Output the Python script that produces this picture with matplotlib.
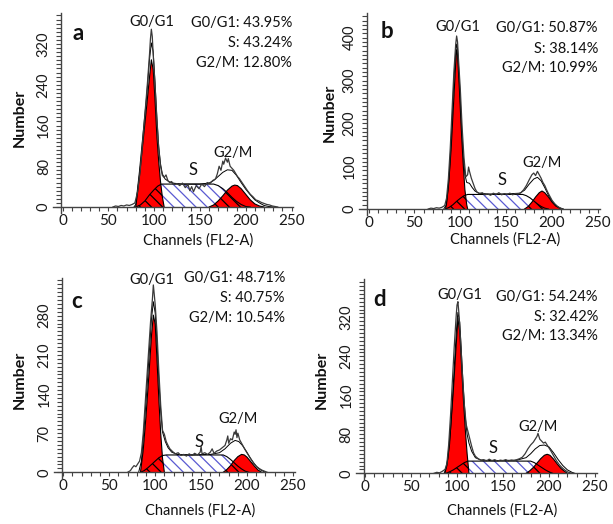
import numpy as np
import matplotlib
matplotlib.use("Agg")
import matplotlib.pyplot as plt
from matplotlib.patches import Polygon

plt.rcParams["font.family"] = ["Lato", "DejaVu Sans"]
plt.rcParams["hatch.linewidth"] = 0.9

# ---- panel a ----
a_raw_ch = [55, 58, 61, 64, 67, 70, 73, 76, 79, 82, 85, 88, 91, 93, 95, 96, 97, 98, 99, 101, 103, 105,
            107, 109, 111, 113, 115, 117, 119, 122, 125, 128, 131, 134, 137, 139, 141, 143, 146, 149,
            152, 155, 158, 161, 164, 167, 169, 171, 173, 175, 176, 178, 180, 181, 183, 185, 187, 189,
            191, 193, 196, 199, 202, 205, 208, 211, 214, 217, 220, 223, 226, 229, 232, 235]
a_raw_n = [0, 2, 1, 3, 2, 4, 3, 5, 8, 30, 75, 140, 205, 250, 300, 330, 349, 335, 300, 240, 175, 115,
           80, 62, 58, 63, 52, 48, 50, 44, 46, 42, 47, 38, 44, 32, 40, 30, 42, 36,
           45, 40, 48, 46, 52, 55, 65, 80, 72, 90, 84, 96, 88, 95, 80, 76, 72, 66,
           60, 56, 48, 40, 32, 25, 20, 14, 12, 9, 7, 5, 4, 2, 1, 0]
a_fit_ch = [78, 80, 84, 88, 92, 95, 97, 99, 101, 103, 105, 107, 109, 112, 116, 120, 130, 150, 160,
            165, 170, 175, 180, 185, 190, 195, 200, 205, 210, 215, 220, 225, 230]
a_fit_n = [0, 5, 70, 145, 220, 290, 322, 305, 245, 175, 120, 85, 65, 55, 50, 47, 45, 45, 47,
           52, 60, 68, 73, 72, 62, 48, 35, 24, 14, 8, 3, 1, 0]
a_g1_ch = [80, 84, 88, 92, 95, 97, 99, 101, 103, 105, 107, 109, 111]
a_g1_n = [0, 60, 130, 200, 255, 289, 270, 210, 140, 90, 50, 20, 0]
a_s_ch = [80, 85, 90, 95, 100, 104, 108, 165, 170, 175, 180, 185, 190, 195, 200, 205]
a_s_n = [0, 4, 12, 24, 34, 41, 45, 45, 42, 36, 28, 19, 11, 5, 1, 0]
a_g2_ch = [160, 165, 170, 175, 180, 185, 188, 191, 195, 200, 205, 210, 215, 220]
a_g2_n = [0, 4, 12, 22, 33, 41, 43, 42, 36, 25, 14, 6, 2, 0]

# ---- panel b ----
b_raw_ch = [65, 68, 71, 74, 77, 80, 83, 85, 87, 89, 91, 93, 95, 96, 97, 98, 100, 102, 104, 106, 108,
            109, 110, 112, 114, 116, 118, 121, 124, 127, 130, 133, 136, 139, 142, 145, 148, 151, 154,
            157, 160, 163, 166, 169, 172, 175, 178, 180, 182, 184, 186, 188, 190, 192, 194, 196, 198,
            200, 203, 206, 209, 212]
b_raw_n = [0, 2, 1, 3, 2, 4, 8, 25, 70, 140, 230, 320, 385, 404, 390, 350, 280, 190, 120, 75, 80,
           98, 88, 72, 60, 48, 40, 36, 38, 33, 35, 32, 37, 34, 38, 33, 36, 34, 37,
           33, 36, 35, 38, 45, 55, 68, 80, 84, 78, 88, 80, 72, 62, 55, 45, 36, 28,
           20, 12, 6, 2, 0]
b_fit_ch = [82, 85, 88, 91, 93, 95, 96, 97, 99, 101, 103, 105, 107, 110, 113, 116, 120, 130, 150,
            165, 170, 175, 180, 184, 188, 192, 196, 200, 204, 208, 212]
b_fit_n = [0, 10, 80, 200, 300, 365, 385, 375, 300, 210, 130, 80, 62, 60, 50, 42, 37, 35, 35,
           37, 44, 58, 70, 74, 66, 50, 32, 18, 8, 3, 0]
b_g1_ch = [84, 87, 90, 93, 95, 96, 97, 99, 101, 103, 105, 107, 108]
b_g1_n = [0, 50, 140, 260, 340, 372, 360, 280, 190, 110, 45, 10, 0]
b_s_ch = [84, 88, 92, 96, 100, 104, 108, 168, 172, 176, 180, 184, 188, 192, 196]
b_s_n = [0, 4, 10, 18, 25, 31, 34, 34, 31, 26, 19, 12, 6, 2, 0]
b_g2_ch = [170, 174, 178, 182, 186, 189, 192, 196, 200, 204, 208, 211]
b_g2_n = [0, 6, 16, 28, 38, 42, 38, 28, 16, 7, 2, 0]

# ---- panel c ----
c_raw_ch = [70, 73, 75, 77, 79, 81, 83, 85, 87, 89, 91, 93, 95, 97, 98, 99, 100, 102, 104, 106, 108,
            110, 112, 114, 116, 119, 122, 125, 128, 131, 134, 137, 140, 143, 146, 149, 150, 151, 154,
            157, 160, 162, 164, 167, 170, 173, 176, 178, 179, 180, 182, 184, 186, 187, 188, 189, 190,
            192, 194, 196, 198, 201, 204, 207, 210, 213, 216, 219, 222]
c_raw_n = [0, 3, 8, 12, 10, 15, 20, 35, 70, 120, 170, 220, 270, 310, 335, 318, 300, 250, 180, 120, 75,
           68, 55, 48, 42, 37, 33, 35, 30, 32, 29, 33, 30, 34, 31, 36, 46, 33, 35,
           32, 36, 42, 34, 38, 40, 44, 48, 58, 65, 52, 60, 58, 72, 68, 76, 62, 70,
           58, 52, 46, 40, 32, 24, 17, 11, 7, 4, 2, 0]
c_fit_ch = [82, 85, 88, 91, 94, 96, 98, 100, 102, 104, 106, 108, 111, 114, 118, 124, 140, 160, 170,
            176, 182, 187, 191, 195, 199, 203, 207, 211, 215, 220]
c_fit_n = [0, 20, 80, 150, 225, 275, 305, 285, 230, 165, 110, 72, 55, 44, 36, 32, 31, 32, 35,
           42, 52, 57, 55, 48, 38, 27, 17, 9, 4, 0]
c_g1_ch = [84, 87, 90, 93, 96, 98, 100, 102, 104, 106, 108, 110]
c_g1_n = [0, 40, 100, 170, 245, 281, 265, 200, 130, 70, 25, 0]
c_s_ch = [84, 88, 92, 96, 100, 104, 108, 112, 174, 178, 182, 186, 190, 194, 198, 202]
c_s_n = [0, 3, 8, 14, 20, 26, 30, 31, 31, 28, 23, 17, 11, 6, 2, 0]
c_g2_ch = [174, 178, 182, 186, 190, 194, 197, 200, 204, 208, 212, 216]
c_g2_n = [0, 5, 12, 21, 28, 32, 31, 27, 19, 11, 4, 0]

# ---- panel d ----
d_raw_ch = [75, 78, 81, 84, 87, 89, 91, 93, 95, 97, 99, 100, 101, 102, 104, 106, 108, 110, 112, 114,
            116, 118, 120, 123, 126, 129, 132, 135, 138, 141, 144, 147, 150, 153, 156, 159, 162, 165,
            168, 171, 174, 177, 180, 183, 185, 187, 188, 190, 192, 194, 196, 198, 200, 202, 205, 208,
            211, 214, 217, 220, 223, 226]
d_raw_n = [0, 2, 1, 4, 8, 20, 60, 120, 190, 260, 320, 345, 352, 330, 270, 200, 140, 100, 85, 70,
           55, 42, 35, 30, 27, 28, 25, 29, 26, 28, 25, 27, 26, 28, 25, 27, 26, 28,
           30, 33, 40, 50, 58, 64, 70, 76, 82, 70, 66, 62, 64, 58, 52, 46, 36, 26,
           18, 12, 7, 3, 1, 0]
d_fit_ch = [86, 89, 92, 95, 98, 100, 101, 103, 105, 107, 109, 111, 113, 116, 120, 126, 140, 165, 175,
            180, 185, 190, 195, 200, 205, 210, 215, 220, 225, 228]
d_fit_n = [0, 15, 60, 150, 250, 310, 330, 310, 240, 170, 115, 80, 62, 45, 32, 27, 26, 27, 32,
           40, 50, 57, 58, 54, 42, 28, 16, 7, 2, 0]
d_g1_ch = [87, 90, 93, 96, 99, 101, 103, 105, 107, 109, 111, 113]
d_g1_n = [0, 30, 90, 170, 260, 318, 290, 220, 150, 90, 40, 0]
d_s_ch = [88, 92, 96, 100, 104, 108, 112, 180, 184, 188, 192, 196, 200, 204]
d_s_n = [0, 3, 7, 12, 17, 22, 25, 25, 22, 17, 12, 7, 3, 0]
d_g2_ch = [175, 179, 183, 187, 191, 195, 198, 201, 205, 209, 213, 217, 220]
d_g2_n = [0, 5, 12, 21, 30, 37, 39, 37, 29, 19, 10, 4, 0]

letters = ["a", "b", "c", "d"]
g1_pct = [43.95, 50.87, 48.71, 54.24]
s_pct = [43.24, 38.14, 40.75, 32.42]
g2_pct = [12.80, 10.99, 10.54, 13.34]
y_major = [80, 100, 70, 80]
y_top_tick = [320, 400, 280, 320]

W, H = 613, 524
RED = "#ff0000"
BLUE = "#5a5ad2"

panels = [
    dict(raw=(a_raw_ch, a_raw_n), fit=(a_fit_ch, a_fit_n), g1=(a_g1_ch, a_g1_n), s=(a_s_ch, a_s_n),
         g2=(a_g2_ch, a_g2_n)),
    dict(raw=(b_raw_ch, b_raw_n), fit=(b_fit_ch, b_fit_n), g1=(b_g1_ch, b_g1_n), s=(b_s_ch, b_s_n),
         g2=(b_g2_ch, b_g2_n)),
    dict(raw=(c_raw_ch, c_raw_n), fit=(c_fit_ch, c_fit_n), g1=(c_g1_ch, c_g1_n), s=(c_s_ch, c_s_n),
         g2=(c_g2_ch, c_g2_n)),
    dict(raw=(d_raw_ch, d_raw_n), fit=(d_fit_ch, d_fit_n), g1=(d_g1_ch, d_g1_n), s=(d_s_ch, d_s_n),
         g2=(d_g2_ch, d_g2_n)),
]

# pixel layout: x of channel 0, x of channel 250, y of count 0, y of top major tick, y limits
layout = [
    (62.5, 291.5, 207.0, 44.0, -12, 380),
    (368.5, 598.0, 209.0, 37.7, -14, 457),
    (63.3, 293.0, 472.3, 315.7, -10, 347),
    (365.0, 595.0, 473.3, 317.3, -12, 398),
]
# label spots in data units: G0/G1, S, G2/M
phase_pos = [
    [(98, 363), (142, 73), (186, 106)],
    [(97.5, 426), (145, 68), (189, 107)],
    [(96, 344), (148, 55), (190, 95)],
    [(103, 366), (139.5, 51), (188, 96)],
]
# text spots in figure pixels
pct_pos = [(292, [23, 43, 63]), (598, [28, 49, 68]), (285, [278, 298, 318]), (598, [297, 317, 336])]
letter_pos = [(78, 33), (387, 32), (77, 302), (380, 300)]
xlab_pos = [(198, 241), (505, 240), (200, 511), (502, 511)]
ylab_pos = [(20, 118), (330, 113), (20, 380), (322, 380)]

fig = plt.figure(figsize=(W / 100, H / 100), dpi=100)


def fpx(x, y):
    return x / W, 1 - y / H


for i, p in enumerate(panels):
    x0, x250, y0, ytp, ylo, yhi = layout[i]
    sx = (x250 - x0) / 250.0
    sy = (y0 - ytp) / y_top_tick[i]
    xlo, xhi = -10, 252
    left = x0 + xlo * sx
    right = x0 + xhi * sx
    top = y0 - yhi * sy
    bottom = y0 - ylo * sy
    ax = fig.add_axes([left / W, 1 - bottom / H, (right - left) / W, (bottom - top) / H])
    ax.set_xlim(xlo, xhi)
    ax.set_ylim(ylo, yhi)

    s_ch, s_n = p["s"]
    ax.fill_between(s_ch, 0, s_n, facecolor="white", edgecolor=BLUE, hatch="\\\\\\", linewidth=0)
    for key in ("g1", "g2"):
        ch, n = p[key]
        ax.fill_between(ch, 0, n, facecolor=RED, edgecolor="none", linewidth=0)
        clip = Polygon(np.column_stack([ch, n]), closed=True, transform=ax.transData)
        over = ax.fill_between(s_ch, 0, s_n, facecolor="none", edgecolor="black",
                               hatch="\\\\\\", linewidth=0)
        over.set_clip_path(clip)
        ax.plot(ch, n, color="black", lw=0.8)
    ax.plot(s_ch, s_n, color="black", lw=0.8)
    ax.plot(*p["fit"], color="black", lw=0.7)
    ax.plot(*p["raw"], color="#3a3a3a", lw=0.9)

    for sp in ("top", "right"):
        ax.spines[sp].set_visible(False)
    ax.spines["left"].set_position(("data", -1.5))
    ax.spines["bottom"].set_position(("data", 0))
    for sp in ("left", "bottom"):
        ax.spines[sp].set_color("#444444")
        ax.spines[sp].set_linewidth(1.0)

    ax.set_xticks(np.arange(0, 251, 50))
    ax.set_xticks(np.arange(0, 251, 10), minor=True)
    ym = y_major[i]
    ax.set_yticks(np.arange(0, y_top_tick[i] + 1, ym))
    ax.set_yticks(np.arange(0, yhi, ym / 10), minor=True)
    ax.tick_params(axis="x", which="both", direction="out", length=3, width=0.8, color="#444444",
                   labelsize=11, pad=2, labelcolor="#1a1a1a")
    ax.tick_params(axis="y", which="both", direction="out", length=3.5, width=0.8, color="#444444",
                   labelsize=10.5, pad=9, labelcolor="#1a1a1a")
    for lab in ax.get_yticklabels():
        lab.set_rotation(90)
        lab.set_va("center")
        lab.set_ha("center")

    (gx, gy), (sxp, syp), (mx, my) = phase_pos[i]
    ax.text(gx, gy, "G0/G1", ha="center", va="center", fontsize=10.5, color="#111111")
    ax.text(sxp, syp, "S", ha="center", va="center", fontsize=12, color="#111111")
    ax.text(mx, my, "G2/M", ha="center", va="center", fontsize=10.5, color="#111111")

    rx, ys = pct_pos[i]
    lines = [f"G0/G1: {g1_pct[i]:.2f}%", f"S: {s_pct[i]:.2f}%", f"G2/M: {g2_pct[i]:.2f}%"]
    for txt, yy in zip(lines, ys):
        fig.text(*fpx(rx, yy), txt, ha="right", va="center", fontsize=10.5, color="#111111")

    fig.text(*fpx(*letter_pos[i]), letters[i], ha="center", va="center", fontsize=16,
             fontweight="bold", color="#111111")
    fig.text(*fpx(*xlab_pos[i]), "Channels (FL2-A)", ha="center", va="center", fontsize=10.5,
             color="#111111")
    fig.text(*fpx(*ylab_pos[i]), "Number", ha="center", va="center", fontsize=11.5,
             fontweight="bold", rotation=90, color="#111111")

fig.savefig("out.png", dpi=100)
